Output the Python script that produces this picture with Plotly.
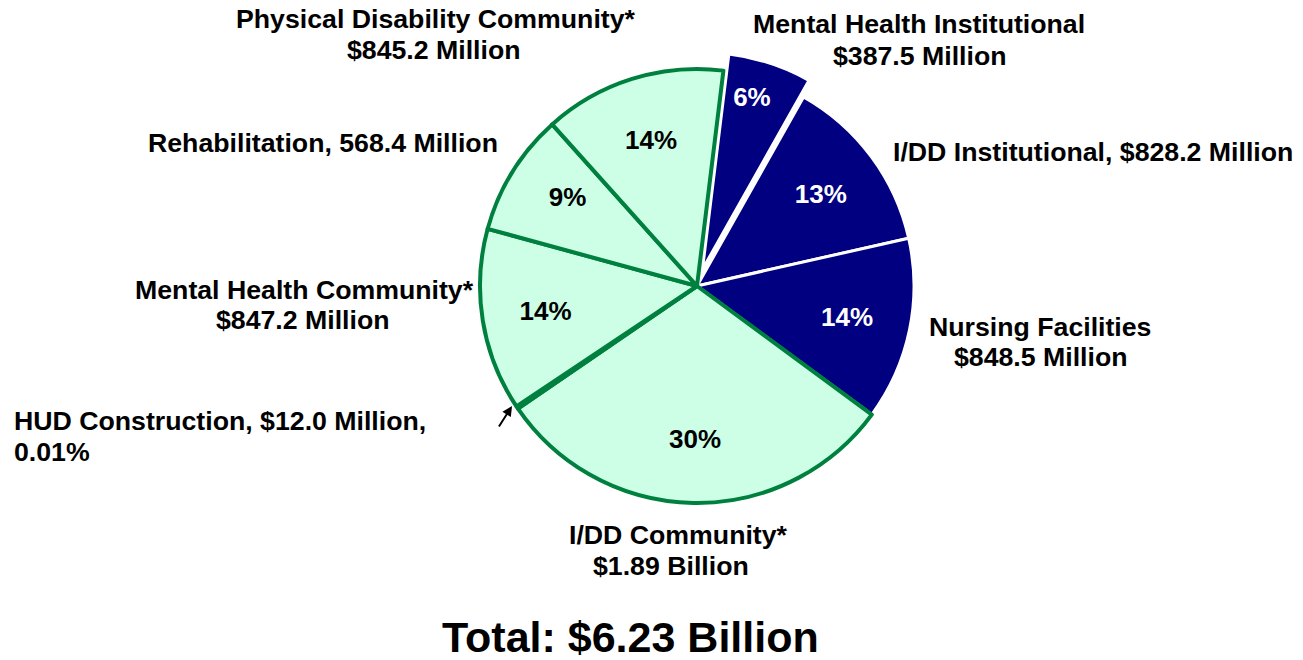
import plotly.graph_objects as go

# ---------------- data ----------------
categories = [
    "Mental Health Institutional",
    "I/DD Institutional",
    "Nursing Facilities",
    "I/DD Community*",
    "HUD Construction",
    "Mental Health Community*",
    "Rehabilitation",
    "Physical Disability Community*",
]
values_millions = [387.5, 828.2, 848.5, 1890.0, 12.0, 847.2, 568.4, 845.2]
is_institutional = [True, True, True, False, False, False, False, False]
show_percent = [True, True, True, True, False, True, True, True]

label_lines = {
    "Mental Health Institutional": ["Mental Health Institutional", "$387.5 Million"],
    "I/DD Institutional": ["I/DD Institutional, $828.2 Million"],
    "Nursing Facilities": ["Nursing Facilities", "$848.5 Million"],
    "I/DD Community*": ["I/DD Community*", "$1.89 Billion"],
    "HUD Construction": ["HUD Construction, $12.0 Million,", "0.01%"],
    "Mental Health Community*": ["Mental Health Community*", "$847.2 Million"],
    "Rehabilitation": ["Rehabilitation, 568.4 Million"],
    "Physical Disability Community*": ["Physical Disability Community*", "$845.2 Million"],
}
total_text = "Total: $6.23 Billion"

# ---------------- style / layout ----------------
W, H = 1303, 660
OFF = 8  # page offset of the plot inside the browser window
NAVY = "#000080"
MINT = "#CCFFE6"
GREEN = "#00803F"
FONT = "Liberation Sans, Arial, sans-serif"
NB = "\u00a0"

# label placement (window-pixel centers of each text line) and anchors
label_pos = {
    "Mental Health Institutional": [(919, 24, "center"), (920, 56, "center")],
    "I/DD Institutional": [(1093, 152, "center")],
    "Nursing Facilities": [(1040, 327, "center"), (1041, 357, "center")],
    "I/DD Community*": [(678, 535, "center"), (671, 566, "center")],
    "HUD Construction": [(12, 421, "left"), (12, 452, "left")],
    "Mental Health Community*": [(304, 290, "center"), (303, 320, "center")],
    "Rehabilitation": [(323, 143, "center")],
    "Physical Disability Community*": [(436, 19, "center"), (434, 50, "center")],
}

# small padding tweaks of the in-slice percentage text (pure whitespace)
pct_pad = {
    "Mental Health Institutional": ("", NB * 2),
    "I/DD Community*": (NB + "<br>" + NB + "<br>", ""),
    "Rehabilitation": (NB * 4, ""),
}


def px(x):
    return (x - OFF) / W


def py(y):
    return 1 - (y - OFF) / H


cx, cy, r = 697, 286, 217
max_pull = 0.08
half = r * (1 + max_pull)
dom_x = [px(cx - half), px(cx + half)]
dom_y = [py(cy + half), py(cy - half)]

fill_colors = [NAVY if inst else MINT for inst in is_institutional]
line_colors = ["white" if inst else GREEN for inst in is_institutional]
line_widths = [3 if inst else 4 for inst in is_institutional]
text_colors = ["white" if inst else "black" for inst in is_institutional]
pulls = [max_pull if c == "Mental Health Institutional" else 0 for c in categories]
templates = []
for c, s in zip(categories, show_percent):
    if not s:
        templates.append("")
        continue
    pre, post = pct_pad.get(c, ("", ""))
    templates.append(pre + "%{percent:.0%}" + post)

fig = go.Figure(
    go.Pie(
        labels=categories,
        values=values_millions,
        sort=False,
        direction="clockwise",
        rotation=7,
        pull=pulls,
        marker=dict(colors=fill_colors, line=dict(color=line_colors, width=line_widths)),
        texttemplate=templates,
        textposition="inside",
        insidetextorientation="horizontal",
        insidetextfont=dict(family=FONT, size=26, color=text_colors, weight="bold"),
        hoverinfo="label+value+percent",
        domain=dict(x=dom_x, y=dom_y),
        showlegend=False,
    )
)

annotations = []
for cat in categories:
    for text, (lx, ly, anchor) in zip(label_lines[cat], label_pos[cat]):
        annotations.append(
            dict(
                x=px(lx), y=py(ly), xref="paper", yref="paper",
                xanchor=anchor, yanchor="middle", text=text, showarrow=False,
                font=dict(family=FONT, size=26.7, color="black", weight="bold"),
            )
        )

# arrow pointing at the tiny HUD slice
annotations.append(
    dict(
        x=px(512), y=py(406), xref="paper", yref="paper",
        ax=-14, ay=22, axref="pixel", ayref="pixel",
        text="", showarrow=True, arrowhead=2, arrowsize=1, arrowwidth=2,
        arrowcolor="black",
    )
)

annotations.append(
    dict(
        x=px(630), y=py(637), xref="paper", yref="paper",
        xanchor="center", yanchor="middle", text=total_text, showarrow=False,
        font=dict(family=FONT, size=43, color="black", weight="bold"),
    )
)

fig.update_layout(
    width=W, height=H,
    margin=dict(l=0, r=0, t=0, b=0),
    paper_bgcolor="white", plot_bgcolor="white",
    annotations=annotations,
    font=dict(family=FONT),
)

fig.write_html("out.html")
